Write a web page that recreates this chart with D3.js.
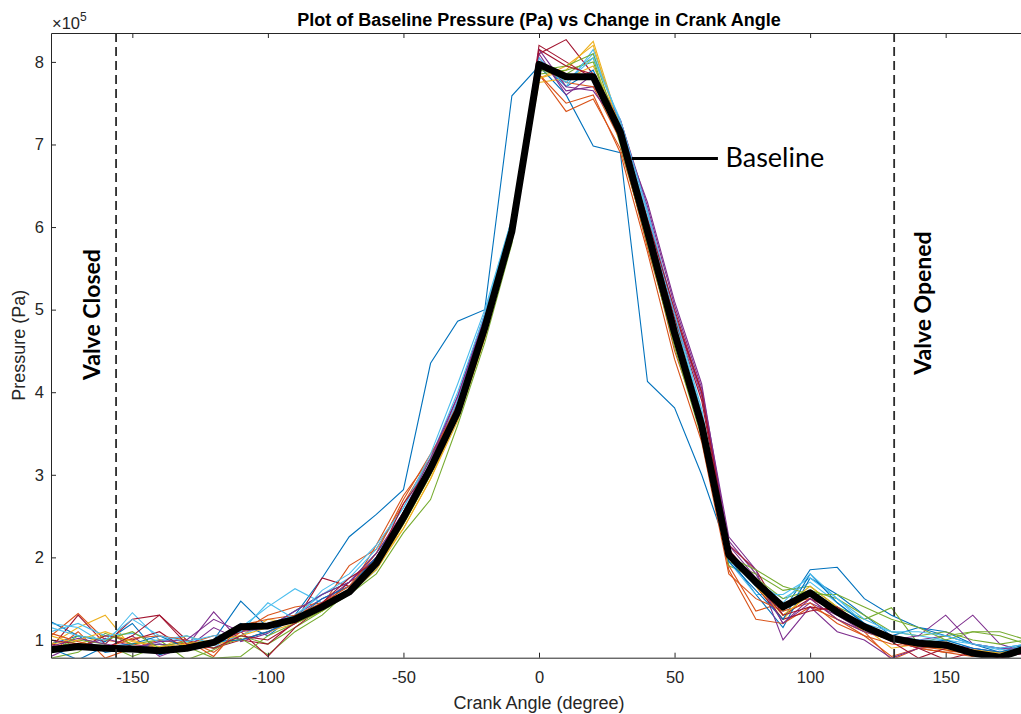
<!DOCTYPE html>
<html>
<head>
<meta charset="utf-8">
<script src="https://cdn.jsdelivr.net/npm/d3@7"></script>
<style>
  body { margin: 0; background: #fff; }
</style>
</head>
<body>
<div id="chart"></div>
<script>
// crank angle (degree)
const angles = [-180,-170,-160,-150,-140,-130,-120,-110,-100,-90,-80,-70,-60,-50,-40,-30,-20,-10,
  0,10,20,30,40,50,60,70,80,90,100,110,120,130,140,150,160,170,180];

// pressure in units of 1e5 Pa, one array per recorded cycle
const run01 = [1.22,1.05,0.98,1.20,0.82,0.92,0.95,1.20,1.05,1.30,1.75,2.25,2.52,2.82,4.35,4.86,5.00,7.59,7.95,7.60,6.98,6.90,4.13,3.81,3.00,2.05,1.75,1.35,1.85,1.88,1.50,1.30,1.15,1.10,0.95,0.90,0.95];
const run02 = [1.05,1.32,1.00,0.95,0.90,1.00,0.85,1.10,1.20,1.28,1.42,1.90,2.10,2.65,3.20,3.85,4.70,5.85,7.85,7.40,7.55,6.95,5.85,4.50,3.55,1.90,1.35,1.45,1.50,1.25,1.05,0.80,0.90,0.85,0.80,0.85,0.95];
const run03 = [0.95,1.15,1.30,0.90,0.85,0.95,1.00,1.05,1.25,1.20,1.38,1.60,1.85,2.40,3.00,3.70,4.75,5.90,7.80,7.90,8.25,7.20,6.00,4.80,3.65,2.10,1.65,1.25,1.60,1.35,1.10,1.00,0.95,0.88,0.85,0.80,0.90];
const run04 = [0.80,0.95,0.90,1.05,0.80,0.92,1.34,0.98,1.08,1.30,1.50,1.65,1.90,2.45,3.10,3.90,4.90,6.00,8.05,7.65,7.70,7.30,6.20,4.95,3.95,2.20,1.80,1.20,1.45,1.30,1.10,1.05,1.00,1.05,1.30,0.95,0.85];
const run05 = [0.78,0.85,1.08,0.95,1.00,0.76,0.88,1.05,0.95,1.15,1.35,1.55,1.80,2.30,2.70,3.60,4.60,5.80,7.90,7.85,8.05,7.00,5.80,4.60,3.50,1.95,1.80,1.60,1.65,1.40,1.25,1.39,0.95,1.05,1.10,1.10,1.00];
const run06 = [1.20,1.15,0.95,1.33,1.00,1.05,0.90,1.15,1.40,1.62,1.45,1.55,1.85,2.50,3.15,3.90,4.85,6.05,8.00,7.75,8.10,7.25,6.10,4.85,3.70,2.05,1.70,1.50,1.70,1.45,1.20,1.05,1.00,1.00,0.90,0.85,0.90];
const run07 = [0.90,1.30,0.95,1.25,1.30,1.00,0.90,1.00,0.95,1.22,1.75,1.65,2.00,2.55,3.05,3.80,4.85,5.95,8.10,8.27,7.85,7.20,6.05,4.95,4.00,2.15,1.85,1.30,1.50,1.35,1.20,1.00,0.90,0.92,0.88,0.82,0.88];
const run08 = [0.95,1.05,0.85,0.90,0.95,0.90,1.00,1.47,1.15,1.35,1.55,1.70,2.05,2.50,3.10,3.85,4.90,6.00,8.00,7.70,7.90,7.15,6.05,4.80,3.70,2.00,1.55,1.15,1.75,1.55,1.30,1.05,1.15,1.05,0.95,0.85,0.95];
const run09 = [0.85,1.10,0.78,0.90,1.00,0.95,1.05,1.10,1.30,1.40,1.45,1.60,2.15,2.75,3.20,3.85,4.85,5.90,7.95,7.75,7.70,7.05,5.75,4.60,3.60,1.85,1.25,1.20,1.40,1.25,1.10,0.76,0.90,0.85,0.88,0.80,0.92];
const run10 = [1.05,0.95,1.05,1.00,0.90,1.05,0.95,1.00,1.10,1.20,1.35,1.60,1.90,2.35,2.95,3.70,4.80,5.95,7.75,7.80,7.95,7.25,6.00,4.85,3.70,2.00,1.75,1.40,1.65,1.40,1.15,0.90,0.95,0.90,0.85,0.80,0.88];
const run11 = [1.00,0.90,1.02,0.92,0.95,0.90,1.15,1.00,1.10,1.25,1.45,1.70,2.00,2.50,3.15,3.95,4.95,6.05,8.10,7.60,7.85,7.30,6.25,5.05,4.05,2.25,1.85,1.00,1.40,1.10,1.00,0.78,0.90,0.95,0.90,0.85,0.82];
const run12 = [0.88,1.00,0.95,0.80,0.92,0.98,0.90,1.02,0.82,1.10,1.30,1.60,1.95,2.45,3.05,3.80,4.80,5.90,7.85,7.90,8.00,7.05,5.80,4.55,3.45,1.90,1.75,1.50,1.60,1.50,1.30,1.10,1.05,1.10,1.00,0.95,1.00];
const run13 = [1.10,1.20,1.05,1.08,0.98,1.05,0.95,1.05,1.20,1.30,1.55,1.75,2.10,2.60,3.20,4.00,4.95,6.10,8.05,7.70,8.15,7.25,6.15,4.90,3.75,1.95,1.55,1.55,1.75,1.50,1.20,1.10,1.05,1.00,0.95,0.88,0.92];
const run14 = [0.95,0.90,1.05,1.00,1.10,0.88,0.95,1.10,0.80,1.15,1.40,1.70,1.90,2.55,3.10,3.75,4.80,5.95,8.20,8.00,7.80,7.15,6.00,4.90,3.90,2.10,1.65,1.25,1.35,1.40,1.15,1.00,0.90,0.76,0.85,0.80,0.85];
const run15 = [0.90,0.76,0.92,0.95,1.05,0.90,0.98,1.00,1.10,1.25,1.50,1.65,2.00,2.45,3.05,3.85,4.85,5.90,7.95,7.80,7.80,7.10,5.95,4.75,3.60,1.95,1.60,1.25,1.80,1.45,1.20,1.00,0.95,1.00,0.90,0.85,0.90];
const run16 = [1.08,0.98,0.90,1.02,1.05,1.00,0.80,1.18,1.25,1.30,1.45,1.65,2.05,2.70,3.25,3.80,4.75,5.85,7.85,7.50,7.60,6.90,5.70,4.40,3.40,1.80,1.50,1.35,1.45,1.20,1.05,0.95,0.92,0.88,0.82,0.82,0.88];
const run17 = [0.95,1.00,1.10,0.98,0.92,0.95,1.00,1.05,1.15,1.25,1.40,1.55,1.85,2.35,2.95,3.65,4.65,5.85,7.80,7.95,8.20,7.15,5.95,4.70,3.60,2.05,1.65,1.30,1.55,1.35,1.10,1.00,0.92,0.95,0.88,0.84,0.90];
const run18 = [0.92,1.02,0.95,0.90,0.98,1.00,1.25,1.10,1.15,1.35,1.55,1.70,2.05,2.55,3.20,3.95,4.90,6.00,8.15,7.70,7.65,7.20,6.30,5.10,4.10,2.15,1.75,1.20,1.50,1.25,1.10,1.00,1.05,1.30,0.95,0.90,0.88];
const run19 = [0.85,1.05,1.00,1.10,0.90,0.92,0.78,0.80,1.05,1.20,1.35,1.60,1.90,2.40,3.00,3.75,4.70,5.85,7.90,7.95,8.10,7.10,5.85,4.65,3.55,2.00,1.85,1.65,1.55,1.55,1.40,1.25,1.15,1.00,1.10,1.05,0.95];
const run20 = [1.15,1.05,1.00,1.25,1.05,0.98,1.05,1.10,1.45,1.25,1.60,1.80,2.15,2.60,3.25,4.10,5.00,6.10,8.00,7.75,8.05,7.30,6.20,4.95,3.80,2.00,1.65,1.45,1.80,1.50,1.25,1.10,1.10,1.05,0.95,0.90,0.95];
const run21 = [1.00,0.95,0.90,1.05,1.30,0.95,0.90,1.05,1.00,1.20,1.45,1.75,1.95,2.65,3.10,3.85,4.80,6.00,8.15,7.95,7.85,7.20,6.10,5.00,4.00,2.10,1.70,1.30,1.40,1.35,1.15,0.98,0.78,0.90,0.85,0.78,0.85];

const baseline = [0.88,0.92,0.90,0.89,0.87,0.90,0.97,1.16,1.17,1.25,1.40,1.58,1.93,2.48,3.08,3.76,4.78,5.95,
  7.97,7.82,7.82,7.15,5.95,4.72,3.60,2.03,1.70,1.40,1.57,1.34,1.16,1.02,0.96,0.94,0.84,0.79,0.90];

const runs = [run01,run02,run03,run04,run05,run06,run07,run08,run09,run10,run11,
  run12,run13,run14,run15,run16,run17,run18,run19,run20,run21];

const xTicks = [-150,-100,-50,0,50,100,150];
const yTicks = [1,2,3,4,5,6,7,8];
const valveClosed = -156;
const valveOpened = 131;

// matlab default colour order
const colours = ["#0072BD","#D95319","#EDB120","#7E2F8E","#77AC30","#4DBEEE","#A2142F"];

//
const width = 1021, height = 714;
const margin = {left: 51, top: 33, right: -6, bottom: 56};

const svg = d3.select("#chart").append("svg")
  .attr("width", width)
  .attr("height", height)
  .style("font-family", "'Liberation Sans', Arial, sans-serif");

const x = d3.scaleLinear().domain([-180, 180]).range([margin.left, width - margin.right]);
const y = d3.scaleLinear().domain([0.785, 8.35]).range([height - margin.bottom - 0.3, margin.top]);

svg.append("clipPath").attr("id", "plot-clip")
  .append("rect")
  .attr("x", x(-180)).attr("y", y(8.35))
  .attr("width", x(180) - x(-180)).attr("height", y(0.785) - y(8.35));

const plot = svg.append("g").attr("clip-path", "url(#plot-clip)");

const line = d3.line()
  .x((d, i) => x(angles[i]))
  .y(d => y(d));

// dashed valve markers
[valveClosed, valveOpened].forEach(a => {
  svg.append("line")
    .attr("x1", x(a)).attr("x2", x(a))
    .attr("y1", y(8.35)).attr("y2", y(0.785))
    .attr("stroke", "#2b2b2b")
    .attr("stroke-width", 1.8)
    .attr("stroke-dasharray", "9,5");
});

runs.forEach((r, i) => {
  plot.append("path")
    .datum(r)
    .attr("d", line)
    .attr("fill", "none")
    .attr("stroke", colours[i % colours.length])
    .attr("stroke-width", 1.1)
    .attr("stroke-linejoin", "miter");
});

plot.append("path")
  .datum(baseline)
  .attr("d", line)
  .attr("fill", "none")
  .attr("stroke", "#000")
  .attr("stroke-width", 7)
  .attr("stroke-linejoin", "round");

// axes
const fmt = d => String(d);
const axisColour = "#262626";

const gx = svg.append("g")
  .attr("transform", `translate(0,${y(0.785)})`)
  .call(d3.axisBottom(x).tickValues(xTicks).tickFormat(fmt).tickSizeInner(-5).tickSizeOuter(0).tickPadding(14));
const gxTop = svg.append("g")
  .attr("transform", `translate(0,${y(8.35)})`)
  .call(d3.axisTop(x).tickValues(xTicks).tickFormat("").tickSizeInner(-5).tickSizeOuter(0));
const gy = svg.append("g")
  .attr("transform", `translate(${x(-180)},0)`)
  .call(d3.axisLeft(y).tickValues(yTicks).tickFormat(fmt).tickSizeInner(-5).tickSizeOuter(0).tickPadding(7));

[gx, gxTop, gy].forEach(g => {
  g.select(".domain").attr("stroke", axisColour).attr("stroke-width", 1);
  g.selectAll(".tick line").attr("stroke", axisColour);
  g.selectAll(".tick text")
    .attr("fill", axisColour)
    .style("font-size", "16.5px")
    .style("font-family", "'Liberation Sans', Arial, sans-serif");
});

// exponent
const expo = svg.append("text")
  .attr("x", x(-180) + 1).attr("y", 28.5)
  .attr("fill", axisColour)
  .style("font-size", "16.5px");
expo.append("tspan").text("\u00d710");
expo.append("tspan").attr("dy", -8).style("font-size", "12px").text("5");

// titles
svg.append("text")
  .attr("x", (x(-180) + x(180)) / 2).attr("y", 26)
  .attr("text-anchor", "middle")
  .style("font-size", "18px").style("font-weight", "bold")
  .attr("fill", "#000")
  .text("Plot of Baseline Pressure (Pa) vs Change in Crank Angle");

svg.append("text")
  .attr("x", (x(-180) + x(180)) / 2).attr("y", 709)
  .attr("text-anchor", "middle")
  .style("font-size", "18px")
  .attr("fill", axisColour)
  .text("Crank Angle (degree)");

svg.append("text")
  .attr("transform", `translate(25,${(y(8.35) + y(0.785)) / 2}) rotate(-90)`)
  .attr("text-anchor", "middle")
  .style("font-size", "18px")
  .attr("fill", axisColour)
  .text("Pressure (Pa)");

// annotations
const noteFont = "Lato, 'Open Sans', sans-serif";
[[-165, 4.94, "Valve Closed"], [141.5, 5.08, "Valve Opened"]].forEach(([a, p, t]) => {
  svg.append("text")
    .attr("transform", `translate(${x(a)},${y(p)}) rotate(-90)`)
    .attr("text-anchor", "middle")
    .attr("dy", "0.35em")
    .style("font-family", noteFont)
    .style("font-weight", "bold")
    .style("font-size", "23px")
    .attr("fill", "#000")
    .text(t);
});

svg.append("line")
  .attr("x1", x(34.2)).attr("x2", x(66))
  .attr("y1", y(6.83)).attr("y2", y(6.83))
  .attr("stroke", "#000")
  .attr("stroke-width", 3);

svg.append("text")
  .attr("x", x(68.8)).attr("y", y(6.73))
  .style("font-family", noteFont)
  .style("font-size", "27px")
  .attr("fill", "#000")
  .text("Baseline");
</script>
</body>
</html>
